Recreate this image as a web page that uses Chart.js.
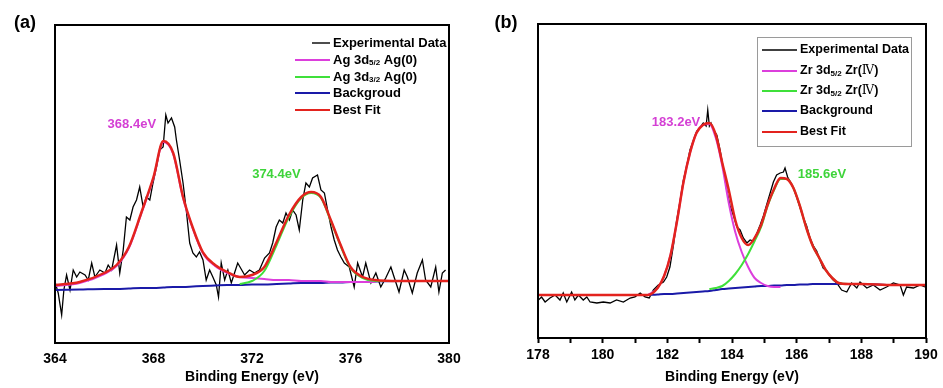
<!DOCTYPE html>
<html>
<head>
<meta charset="utf-8">
<script src="https://cdn.jsdelivr.net/npm/chart.js@4.4.1/dist/chart.umd.min.js"></script>
<style>
  html, body { margin: 0; padding: 0; background: #fff; }
  #wrap { position: relative; width: 943px; height: 388px; overflow: hidden; }
  canvas { position: absolute; top: 0; }
  #chartA { left: 0; }
  #chartB { left: 470px; }
</style>
</head>
<body>
<div id="wrap">
  <canvas id="chartA" width="470" height="388"></canvas>
  <canvas id="chartB" width="473" height="388"></canvas>
</div>
<script>
// ---- panel (a): Ag 3d ----
const aExpE = [364.00, 364.13, 364.27, 364.36, 364.47, 364.61, 364.74, 364.88, 365.01, 365.22,
  365.35, 365.49, 365.62, 365.82, 366.03, 366.16, 366.30, 366.50, 366.63, 366.77,
  366.90, 367.04, 367.17, 367.31, 367.44, 367.58, 367.71, 367.85, 367.98, 368.12,
  368.25, 368.39, 368.50, 368.59, 368.73, 368.86, 368.93, 369.06, 369.20, 369.33,
  369.47, 369.60, 369.74, 369.87, 370.01, 370.14, 370.28, 370.41, 370.55, 370.64,
  370.75, 370.89, 371.02, 371.16, 371.29, 371.42,
  371.70, 371.90, 372.10, 372.30, 372.51, 372.71, 372.84, 372.98, 373.11, 373.25,
  373.38, 373.52, 373.65, 373.79, 373.92, 374.06, 374.19, 374.33, 374.46, 374.66,
  374.80, 374.94, 375.07, 375.21, 375.34, 375.47, 375.61, 375.75, 375.95, 376.15,
  376.29, 376.49, 376.62, 376.83, 377.03, 377.23, 377.43, 377.64, 377.77, 377.97,
  378.18, 378.31, 378.51, 378.71, 378.92, 379.05, 379.26, 379.46, 379.59, 379.73, 379.86]
const aExpI = [61, 50, 28, 53, 68, 53, 73, 66, 71, 68,
  63, 80, 66, 73, 70, 78, 73, 98, 70, 93,
  126, 123, 136, 143, 156, 136, 146, 143, 160, 176,
  193, 196, 228, 220, 225, 216, 203, 183, 160, 133,
  100, 90, 86, 91, 83, 63, 73, 66, 58, 46,
  80, 63, 73, 60, 70, 80,
  68, 73, 70, 73, 85, 90, 100, 116, 123, 120,
  130, 123, 133, 128, 113, 143, 160, 156, 165, 168,
  153, 150, 133, 116, 103, 93, 86, 80, 76, 56,
  80, 66, 80, 60, 70, 56, 65, 76, 66, 51,
  73, 66, 50, 70, 83, 63, 56, 76, 51, 70, 73]

const aFitE = [364, 365, 366, 366.5, 367, 367.5, 368, 368.4, 368.8, 369.2,
  369.6, 370, 370.5, 371, 371.5, 372, 372.5, 373, 373.5, 374,
  374.4, 374.8, 375.2, 375.6, 376, 376.5, 377, 378, 379, 380]
const aBestFit = [58, 61, 70, 78, 96, 130, 166, 202, 190, 146,
  115, 91, 78, 71, 66, 68, 76, 101, 128, 146,
  151, 146, 123, 98, 76, 66, 63, 62, 62, 62]
const aPeak52 = [57, 60, 69, 77, 95, 129, 165, 201, 189, 145,
  114, 90, 77, 70, 66, 65, 64, 63, 63, 62,
  62, 62, 61, 61, 61, 61, 61, null, null, null]
const aPeak32 = [null, null, null, null, null, null, null, null, null, null,
  null, null, null, null, 59, 62, 72, 98, 126, 145,
  150, 145, 122, 97, 75, 65, 62, 62, null, null]
const aBackground = [53, 53.5, 54, 54, 54.5, 55, 55, 55.5, 56, 56,
  56.5, 57, 57.5, 58, 58, 58.5, 58.5, 59, 59.5, 60,
  60, 60, 60.5, 60.5, 61, 61, 61.5, 62, 62, 62]
const aTicks = [364, 368, 372, 376, 380]

// ---- panel (b): Zr 3d ----
const bExpE = [178.01, 178.11, 178.22, 178.37, 178.53, 178.68, 178.78, 178.89, 179.04, 179.14,
  179.25, 179.40, 179.51, 179.61, 179.82, 180.02, 180.23, 180.43, 180.64, 180.85,
  181.00, 181.16, 181.31, 181.44, 181.57, 181.72, 181.88, 181.98, 182.08, 182.2,
  182.29, 182.4, 182.49, 182.6, 182.7, 182.8, 182.91, 183.0, 183.11, 183.2,
  183.25, 183.3, 183.35, 183.45, 183.53, 183.63, 183.73, 183.84, 183.94, 184.04,
  184.15, 184.25, 184.35, 184.46, 184.56, 184.66, 184.76, 184.87, 184.97, 185.07,
  185.18, 185.28, 185.38, 185.49, 185.59, 185.64, 185.72, 185.79, 185.9, 186.0,
  186.1, 186.21, 186.31, 186.41, 186.52, 186.62, 186.72, 186.82, 186.93, 187.03,
  187.13, 187.24, 187.39, 187.55, 187.70, 187.86, 187.96, 188.17, 188.37, 188.58,
  188.78, 188.99, 189.20, 189.30, 189.40, 189.61, 189.82, 189.97]
const bExpI = [38, 41, 36, 40, 43, 38, 45, 36, 46, 38,
  43, 38, 41, 36, 35, 36, 35, 38, 36, 40,
  41, 45, 41, 40, 48, 53, 56, 61, 71, 95,
  118, 138, 157, 172, 188, 197, 207, 210, 215, 212,
  228, 212, 215, 207, 203, 188, 170, 147, 132, 123,
  111, 108, 100, 95, 98, 97, 104, 113, 122, 133,
  145, 156, 163, 165, 166, 170, 161, 157, 150, 141,
  131, 120, 112, 100, 92, 87, 78, 70, 67, 62,
  58, 55, 48, 46, 55, 50, 56, 50, 53, 48,
  51, 55, 53, 43, 51, 50, 53, 51]

const bFitE = [178, 179, 180, 181, 181.4, 181.7, 181.9, 182.1, 182.3, 182.5,
  182.7, 182.9, 183.1, 183.3, 183.5, 183.7, 183.9, 184.1, 184.3, 184.5,
  184.7, 184.9, 185.1, 185.3, 185.5, 185.7, 185.9, 186.1, 186.3, 186.5,
  186.7, 186.9, 187.1, 187.3, 187.6, 188, 189, 190]
const bBestFit = [43, 43, 43, 43, 43, 50, 62, 83, 117, 156,
  185, 205, 213, 215, 203, 175, 148, 118, 100, 93,
  100, 113, 133, 149, 160, 159, 150, 132, 110, 92,
  80, 68, 60, 55, 54, 54, 53, 53]
const bPeak52 = [null, null, null, null, 43, 50, 62, 83, 117, 156,
  185, 205, 213, 214, 200, 172, 135, 106, 86, 71,
  60, 55, 52, 51, 51, null, null, null, null, null,
  null, null, null, null, null, null, null, null]
const bPeak32 = [null, null, null, null, null, null, null, null, null, null,
  null, null, null, 49, 50, 52, 57, 64, 73, 84,
  97, 111, 132, 148, 159, 159, 150, 132, 110, 92,
  80, 68, 60, 55, 54, 54, null, null]
const bBackground = [null, null, null, null, 43, 43.5, 44, 44, 44.5, 45,
  45.5, 46, 46.5, 47, 48, 49, 49.5, 50, 50.5, 51,
  51.5, 52, 52, 52.5, 52.5, 53, 53, 53.5, 53.5, 54,
  54, 54, 54, 54, 54, 54, 53, 53]

const RED = '#e3231e'
const MAGENTA = '#dc3fdc'
const GREEN = '#3fe03a'
const BLUE = '#1a1aa8'
const FONT = "'Liberation Sans', Arial, sans-serif"

Chart.defaults.font.family = FONT
Chart.defaults.color = '#000'

function points(xs, ys) {
  return xs.map((x, i) => ({ x: x, y: ys[i] })).filter((p) => p.y !== null)
}

// black frame round the plot area
const framePlugin = {
  id: 'frame',
  afterDatasetsDraw(chart) {
    const { ctx, chartArea: a } = chart
    ctx.save()
    ctx.strokeStyle = '#000'
    ctx.lineWidth = 2
    ctx.strokeRect(a.left, a.top, a.right - a.left, a.bottom - a.top)
    ctx.restore()
  },
}

// rich text: segments of normal / subscript / roman numeral
function drawRich(ctx, parts, x, y, size) {
  parts.forEach((p) => {
    let dy = 0
    if (p.s === 'sub') {
      ctx.font = `bold ${Math.round(size * 0.62)}px ${FONT}`
      dy = 3
    } else if (p.s === 'roman') {
      ctx.font = `${size}px 'DejaVu Serif', serif`
    } else {
      ctx.font = `bold ${size}px ${FONT}`
    }
    ctx.fillText(p.t, x, y + dy)
    x += ctx.measureText(p.t).width
  })
}

const notesPlugin = {
  id: 'notes',
  afterDraw(chart, args, opts) {
    const { ctx } = chart
    const xs = chart.scales.x
    const ys = chart.scales.y
    ctx.save()
    // panel letter
    ctx.fillStyle = '#000'
    ctx.textAlign = 'center'
    ctx.textBaseline = 'middle'
    ctx.font = `bold 18px ${FONT}`
    ctx.fillText(opts.panel.text, opts.panel.x, opts.panel.y)
    // peak labels, placed in data coordinates
    ctx.font = `bold 13px ${FONT}`
    opts.peaks.forEach((p) => {
      ctx.fillStyle = p.color
      ctx.fillText(p.text, xs.getPixelForValue(p.e), ys.getPixelForValue(p.i))
    })
    // legend
    const lg = opts.legend
    if (lg.box) {
      ctx.strokeStyle = '#9a9a9a'
      ctx.lineWidth = 1
      ctx.strokeRect(lg.box[0] + 0.5, lg.box[1] + 0.5, lg.box[2], lg.box[3])
    }
    ctx.textAlign = 'left'
    lg.rows.forEach((r, i) => {
      const y = lg.rowY[i]
      ctx.strokeStyle = r.color
      ctx.lineWidth = r.width
      ctx.beginPath()
      ctx.moveTo(r.from != null ? r.from : lg.lineFrom, y)
      ctx.lineTo(lg.lineTo, y)
      ctx.stroke()
      ctx.fillStyle = '#000'
      drawRich(ctx, r.parts, lg.textX, y, lg.size)
    })
    ctx.restore()
  },
}

function lineSet(label, xs, ys, color, width, smooth) {
  return {
    label: label,
    data: points(xs, ys),
    borderColor: color,
    borderWidth: width,
    pointRadius: 0,
    fill: false,
    tension: smooth ? 0.4 : 0,
    cubicInterpolationMode: smooth ? 'monotone' : 'default',
  }
}

function makeChart(id, cfg) {
  const ctx = document.getElementById(id).getContext('2d')
  return new Chart(ctx, {
    type: 'line',
    data: { datasets: cfg.datasets },
    options: {
      responsive: false,
      animation: false,
      layout: { padding: cfg.padding },
      plugins: {
        legend: { display: false },
        tooltip: { enabled: false },
        notes: cfg.notes,
      },
      scales: {
        x: cfg.x,
        y: { type: 'linear', display: false, min: 0, max: cfg.yMax },
      },
    },
    plugins: [framePlugin, notesPlugin],
  })
}

const tickFont = { size: 14, weight: 'bold' }
const titleFont = { size: 14, weight: 'bold' }

makeChart('chartA', {
  padding: { left: 55, top: 25, right: 21, bottom: 2 },
  yMax: 318,
  datasets: [
    lineSet('Best Fit', aFitE, aBestFit, RED, 2.5, true),
    lineSet('Ag 3d3/2 Ag(0)', aFitE, aPeak32, GREEN, 2, true),
    lineSet('Ag 3d5/2 Ag(0)', aFitE, aPeak52, MAGENTA, 2, true),
    lineSet('Backgroud', aFitE, aBackground, BLUE, 2, true),
    lineSet('Experimental Data', aExpE, aExpI, '#000', 1.3, false),
  ],
  x: {
    type: 'linear',
    min: 364,
    max: 380,
    afterFit: (s) => { s.height = 43 },
    afterBuildTicks: (s) => { s.ticks = aTicks.map((v) => ({ value: v })) },
    grid: { display: false, drawTicks: false },
    border: { display: false },
    ticks: { padding: 8, font: tickFont, maxRotation: 0, autoSkip: false },
    title: { display: true, text: 'Binding Energy (eV)', font: titleFont, padding: 0 },
  },
  notes: {
    panel: { text: '(a)', x: 25, y: 23 },
    peaks: [
      { text: '368.4eV', e: 367.12, i: 219, color: '#d43fd4' },
      { text: '374.4eV', e: 372.99, i: 169, color: '#3ed43a' },
    ],
    legend: {
      size: 13,
      lineFrom: 295,
      lineTo: 330,
      textX: 333,
      rowY: [43, 60, 77, 93, 110],
      rows: [
        { color: '#000', width: 1.4, from: 312, parts: [{ t: 'Experimental Data' }] },
        { color: MAGENTA, width: 2, parts: [{ t: 'Ag 3d' }, { t: '5/2', s: 'sub' }, { t: ' Ag(0)' }] },
        { color: GREEN, width: 2, parts: [{ t: 'Ag 3d' }, { t: '3/2', s: 'sub' }, { t: ' Ag(0)' }] },
        { color: BLUE, width: 2, parts: [{ t: 'Backgroud' }] },
        { color: RED, width: 2, parts: [{ t: 'Best Fit' }] },
      ],
    },
  },
})

makeChart('chartB', {
  padding: { left: 68, top: 24, right: 17, bottom: 2 },
  yMax: 314,
  datasets: [
    lineSet('Best Fit', bFitE, bBestFit, RED, 2.5, true),
    lineSet('Zr 3d3/2 Zr(IV)', bFitE, bPeak32, GREEN, 2, true),
    lineSet('Zr 3d5/2 Zr(IV)', bFitE, bPeak52, MAGENTA, 2, true),
    lineSet('Background', bFitE, bBackground, BLUE, 2, true),
    lineSet('Experimental Data', bExpE, bExpI, '#000', 1.3, false),
  ],
  x: {
    type: 'linear',
    min: 178,
    max: 190,
    afterFit: (s) => { s.height = 48 },
    grid: {
      display: true,
      drawOnChartArea: false,
      drawTicks: true,
      tickLength: 5,
      tickColor: '#000',
      tickWidth: 2,
    },
    border: { display: false },
    ticks: {
      stepSize: 1,
      autoSkip: false,
      maxRotation: 0,
      padding: 4,
      font: tickFont,
      callback: (v) => (v % 2 === 0 ? v : ''),
    },
    title: { display: true, text: 'Binding Energy (eV)', font: titleFont, padding: 0 },
  },
  notes: {
    panel: { text: '(b)', x: 36, y: 23 },
    peaks: [
      { text: '183.2eV', e: 182.27, i: 216, color: '#d43fd4' },
      { text: '185.6eV', e: 186.78, i: 164, color: '#3ed43a' },
    ],
    legend: {
      size: 12.5,
      box: [287, 37, 154, 109],
      lineFrom: 292,
      lineTo: 327,
      textX: 330,
      rowY: [50, 71, 91, 111, 132],
      rows: [
        { color: '#000', width: 1.4, parts: [{ t: 'Experimental Data' }] },
        { color: MAGENTA, width: 2, parts: [{ t: 'Zr 3d' }, { t: '5/2', s: 'sub' }, { t: ' Zr(' }, { t: 'Ⅳ', s: 'roman' }, { t: ')' }] },
        { color: GREEN, width: 2, parts: [{ t: 'Zr 3d' }, { t: '5/2', s: 'sub' }, { t: ' Zr(' }, { t: 'Ⅳ', s: 'roman' }, { t: ')' }] },
        { color: BLUE, width: 2, parts: [{ t: 'Background' }] },
        { color: RED, width: 2, parts: [{ t: 'Best Fit' }] },
      ],
    },
  },
})
</script>
</body>
</html>
